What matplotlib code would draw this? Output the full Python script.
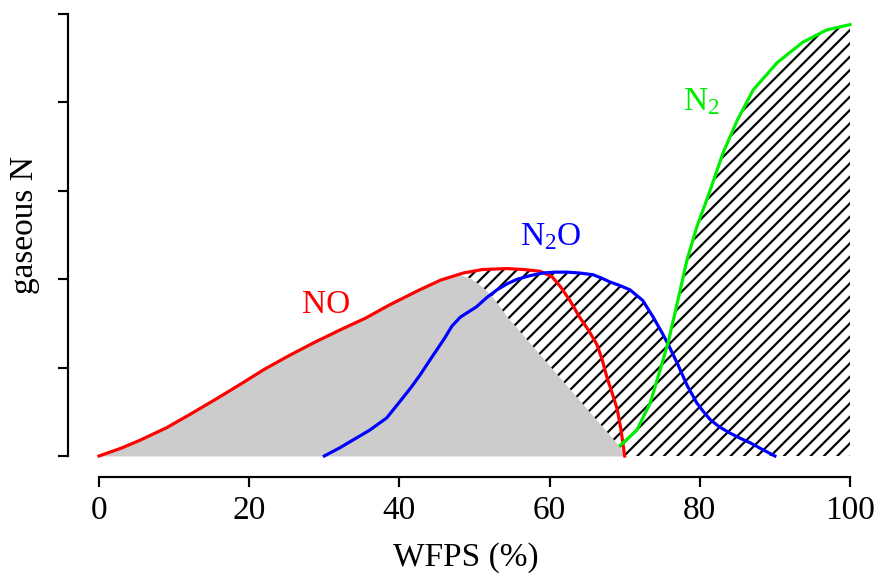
#!/usr/bin/env python3
"""Gaseous N emissions (NO, N2O, N2) versus water-filled pore space."""

import numpy as np
import matplotlib
matplotlib.use("Agg")
import matplotlib.pyplot as plt

# curves (x = WFPS %, y = relative gaseous N)
no_x = [0, 3, 5.5, 9, 12.1, 15.5, 18.8, 22, 25.4, 28.8, 32.2, 35.5, 38.7,
        42.7, 45.5, 48.5, 51.1, 54.3, 56.5, 58.7, 60.3, 61.4, 62.7, 64.0,
        65.2, 66.3, 67.0, 67.6, 68.3, 69.0, 69.5, 70.0]
no_y = [0, 0.09, 0.18, 0.32, 0.47, 0.64, 0.81, 0.98, 1.14, 1.29, 1.43, 1.56,
        1.71, 1.88, 1.99, 2.07, 2.11, 2.12, 2.11, 2.09, 2.03, 1.92, 1.76,
        1.57, 1.42, 1.26, 1.09, 0.90, 0.72, 0.53, 0.30, 0]

n2o_x = [30, 32, 34, 36, 38.3, 40.1, 41.5, 42.7, 44.1, 46, 47, 48.1, 49.2,
         50.3, 51.6, 53, 54.4, 55.7, 57.4, 59.1, 60.7, 62.3, 64, 65.8, 67, 68,
         69.3, 70.7, 72.4, 73.8, 75.0, 75.8, 77, 78.3, 79.6, 80.5, 81.4, 82.6,
         84.0, 85.4, 86.7, 88.2, 90]
n2o_y = [0, 0.09, 0.19, 0.29, 0.43, 0.62, 0.77, 0.91, 1.09, 1.33, 1.47, 1.57,
         1.63, 1.69, 1.79, 1.88, 1.95, 2.00, 2.04, 2.07, 2.08, 2.08, 2.07,
         2.05, 2.01, 1.97, 1.93, 1.88, 1.76, 1.57, 1.39, 1.26, 1.05, 0.80,
         0.60, 0.50, 0.41, 0.33, 0.26, 0.20, 0.15, 0.08, 0]

n2_x = [69.4, 71.6, 73.4, 74.7, 75.8, 77.0, 78.3, 79.6, 81.4, 83.1, 85.0,
        87.1, 90.3, 93.7, 96.9, 100]
n2_y = [0.12, 0.29, 0.60, 0.97, 1.29, 1.73, 2.22, 2.59, 3.01, 3.43, 3.80,
        4.14, 4.45, 4.68, 4.82, 4.88]

# upper edge of the grey (NO) area
gray_x = [0, 3, 5.5, 9, 12.1, 15.5, 18.8, 22, 25.4, 28.8, 32.2, 35.5, 38.7,
          42.7, 45.5, 47, 48.1, 49.5, 51.1, 52.5, 54.3, 69.4, 70]
gray_y = [0, 0.09, 0.18, 0.32, 0.47, 0.64, 0.81, 0.98, 1.14, 1.29, 1.43, 1.56,
          1.71, 1.88, 1.98, 2.03, 2.05, 2.01, 1.91, 1.79, 1.58, 0.1, 0]

x_ticks = [0, 20, 40, 60, 80, 100]
y_ticks = [0, 1, 2, 3, 4, 5]

plt.rcParams['font.family'] = ['Liberation Serif', 'DejaVu Serif']
plt.rcParams['mathtext.fontset'] = 'custom'
plt.rcParams['mathtext.rm'] = 'Liberation Serif'
plt.rcParams['mathtext.it'] = 'Liberation Serif:italic'
plt.rcParams['hatch.linewidth'] = 1.3

DPI = 120
fig = plt.figure(figsize=(876 / DPI, 577 / DPI), dpi=DPI)
ax = fig.add_axes([99 / 876, 121 / 577, 751 / 876, 442 / 577])

# grey area under NO
ax.fill_between(gray_x, 0, gray_y, color='#cccccc', linewidth=0)
ax.plot([gray_x[0], gray_x[-1]], [0, 0], color='#888888', lw=0.8,
        linestyle=(0, (1, 5)))

# hatched area: between grey edge and the envelope of all curves
x_start = gray_x[int(np.argmax(gray_y))]
xs = np.linspace(x_start, 100, 1000)
bottom = np.interp(xs, gray_x, gray_y, right=0)
top = np.maximum.reduce([
    np.interp(xs, no_x, no_y, left=0, right=0),
    np.interp(xs, n2o_x, n2o_y, left=0, right=0),
    np.interp(xs, n2_x, n2_y, left=0),
])
ax.fill_between(xs, bottom, top, where=top >= bottom, facecolor='none',
                edgecolor='black', hatch='///', linewidth=0)

lw = 1.9
ax.plot(no_x, no_y, color='#ff0000', lw=lw, clip_on=False)
ax.plot(n2o_x, n2o_y, color='#0000ff', lw=lw, clip_on=False)
ax.plot(n2_x, n2_y, color='#00ee00', lw=lw, clip_on=False)

fs = 20
ax.text(27.0, 1.62, 'NO', color='#ff0000', fontsize=fs, va='baseline')
ax.text(56.1, 2.39, r'N$_\mathrm{2}$O', color='#0000ff', fontsize=fs,
        va='baseline')
ax.text(77.8, 3.91, r'N$_\mathrm{2}$', color='#00ee00', fontsize=fs,
        va='baseline')

ax.set_xlim(0, 100)
ax.set_ylim(0, 5)
for side in ('top', 'right'):
    ax.spines[side].set_visible(False)
ax.spines['left'].set_position(('outward', 31 * 72 / DPI))
ax.spines['bottom'].set_position(('outward', 21 * 72 / DPI))
ax.spines['left'].set_bounds(0, 5)
ax.spines['bottom'].set_bounds(0, 100)
for side in ('left', 'bottom'):
    ax.spines[side].set_linewidth(1.3)

ax.set_xticks(x_ticks)
ax.set_yticks(y_ticks)
ax.set_yticklabels([])
ax.tick_params(length=6, width=1.3, labelsize=fs, pad=5)

fig.text(466 / 876, 1 - 558 / 577, 'WFPS (%)', fontsize=fs,
         ha='center', va='center')
fig.text(25 / 876, 1 - 225 / 577, 'gaseous N', fontsize=fs,
         ha='center', va='center', rotation=90)

fig.savefig('out.png', dpi=DPI)
